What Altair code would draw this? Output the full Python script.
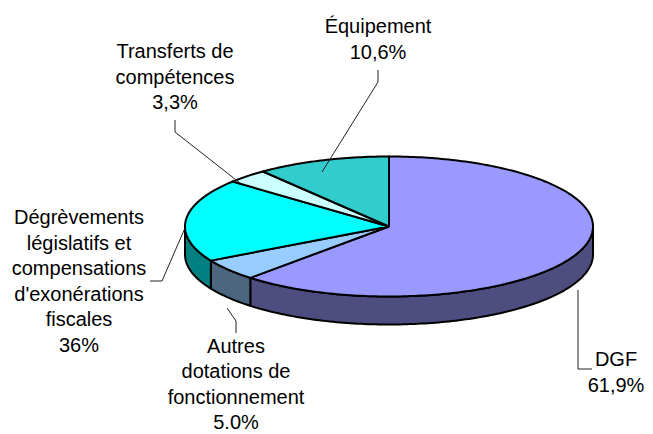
import math
import altair as alt
import pandas as pd

# --- chart values ---
categories = ["DGF", "Autres dotations de fonctionnement",
              "Dégrèvements législatifs et compensations d'exonérations fiscales",
              "Transferts de compétences", "Équipement"]
shares = [61.9, 5.0, 19.2, 3.3, 10.6]
label_lines = [
    ["DGF", "61,9%"],
    ["Autres", "dotations de", "fonctionnement", "5.0%"],
    ["Dégrèvements", "législatifs et", "compensations", "d'exonérations", "fiscales", "36%"],
    ["Transferts de", "compétences", "3,3%"],
    ["Équipement", "10,6%"],
]
top_colors = ["#9999FF", "#99CCFF", "#00FFFF", "#CCFFFF", "#33CCCC"]
wall_colors = ["#4D4D80", "#4D6680", "#008080", "#668080", "#1A6666"]

# --- layout ---
W, H = 637, 426
OFF = 8
CX, CY, RX, RY, DEPTH = 389, 226.5, 204, 70, 28
label_anchor = [(616, 360), (236, 346.5), (79, 218), (175, 52), (378, 27)]
PITCH = 25.6
leaders = [
    [(578, 290), (578, 369), (592, 369)],
    [(227, 308), (236, 321), (236, 333)],
    [(150, 281), (162, 281), (185, 228)],
    [(175, 120), (175, 132), (240, 183)],
    [(378, 70), (378, 82), (322, 172)],
]

def pt(deg, drop=0.0):
    a = math.radians(deg)
    return CX + RX * math.sin(a), CY - RY * math.cos(a) + drop

xs = alt.Scale(domain=[OFF, OFF + W], nice=False, zero=False)
ys = alt.Scale(domain=[OFF + H, OFF], nice=False, zero=False)

def poly(points, fill):
    df = pd.DataFrame({"x": [p[0] for p in points], "y": [p[1] for p in points],
                       "o": list(range(len(points)))})
    return alt.Chart(df).mark_line(fill=fill, stroke="black", strokeWidth=2,
                                   strokeJoin="round", clip=False).encode(
        x=alt.X("x:Q", scale=xs, axis=None),
        y=alt.Y("y:Q", scale=ys, axis=None),
        order="o:Q",
    )

def arc(a0, a1, drop=0.0):
    n = max(2, int(abs(a1 - a0)) + 1)
    return [pt(a0 + (a1 - a0) * i / n, drop) for i in range(n + 1)]

layers = []
tops = []
start = 0.0
total = sum(shares)
for share, tc, wc in zip(shares, top_colors, wall_colors):
    end = start + share / total * 360
    lo, hi = max(start, 90), min(end, 270)
    if hi > lo:
        outline = arc(lo, hi) + arc(hi, lo, DEPTH)
        layers.append(poly(outline + outline[:1], wc))
    tops.append(poly([(CX, CY)] + arc(start, end) + [(CX, CY)], tc))
    start = end
layers += tops

rows = []
for k, path in enumerate(leaders):
    for i, (x, y) in enumerate(path):
        rows.append({"k": k, "i": i, "x": x, "y": y})
layers.append(
    alt.Chart(pd.DataFrame(rows)).mark_line(color="#222222", strokeWidth=1).encode(
        x=alt.X("x:Q", scale=xs, axis=None),
        y=alt.Y("y:Q", scale=ys, axis=None),
        detail="k:N", order="i:Q",
    )
)

text_rows = []
for lines, (x, y) in zip(label_lines, label_anchor):
    for i, line in enumerate(lines):
        text_rows.append({"t": line, "x": x, "y": y + i * PITCH})
layers.append(
    alt.Chart(pd.DataFrame(text_rows)).mark_text(
        font="Liberation Sans", fontSize=20, color="black", align="center", baseline="middle"
    ).encode(
        x=alt.X("x:Q", scale=xs, axis=None),
        y=alt.Y("y:Q", scale=ys, axis=None),
        text="t:N",
    )
)

chart = alt.layer(*layers).properties(
    width=W, height=H, padding=0, autosize=alt.AutoSizeParams(type="none"), background="white"
).configure_view(stroke=None)

chart.save("out.html", embed_options={"renderer": "svg", "actions": False})
